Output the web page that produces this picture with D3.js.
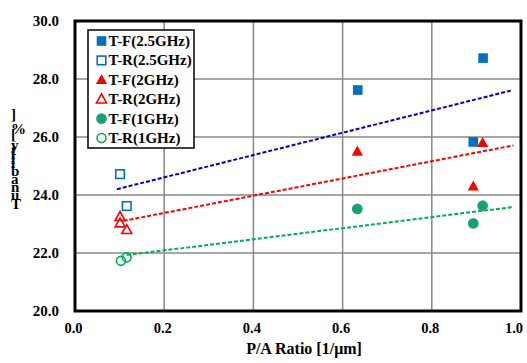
<!DOCTYPE html>
<html>
<head>
<meta charset="utf-8">
<script src="https://cdn.jsdelivr.net/npm/d3@7"></script>
<style>
  body { margin: 0; background: #fff; }
  text { font-family: "Liberation Serif", "Times New Roman", serif; font-weight: bold; fill: #000; }
</style>
</head>
<body>
<script>
const width = 527;
const height = 363;
const margin = { top: 21, right: 6, bottom: 52, left: 75 };

const xTicks = [0, 0.2, 0.4, 0.6, 0.8, 1.0];
const yTicks = [20, 22, 24, 26, 28, 30];

// series: name, marker, colours, points [P/A ratio, tunability]
const tf25 = [[0.634, 27.62], [0.893, 25.83], [0.915, 28.72]];
const tr25 = [[0.101, 24.72], [0.116, 23.62]];
const tf2 = [[0.633, 25.50], [0.893, 24.30], [0.914, 25.80]];
const tr2 = [[0.101, 23.25], [0.101, 23.03], [0.116, 22.80]];
const tf1 = [[0.633, 23.52], [0.893, 23.02], [0.914, 23.63]];
const tr1 = [[0.103, 21.73], [0.116, 21.85]];

// dashed trend lines (start / end points)
const trend25 = [[0.094, 24.20], [0.980, 27.61]];
const trend2 = [[0.109, 23.11], [0.983, 25.71]];
const trend1 = [[0.116, 21.93], [0.979, 23.58]];

const series = [
    { name: "T-F(2.5GHz)", shape: "square", fill: "#0070C0", stroke: "none", data: tf25 },
    { name: "T-R(2.5GHz)", shape: "square", fill: "none", stroke: "#0070C0", data: tr25 },
    { name: "T-F(2GHz)", shape: "triangle", fill: "#FF0000", stroke: "none", data: tf2 },
    { name: "T-R(2GHz)", shape: "triangle", fill: "none", stroke: "#FF0000", data: tr2 },
    { name: "T-F(1GHz)", shape: "circle", fill: "#00B050", stroke: "#3A8FB0", data: tf1 },
    { name: "T-R(1GHz)", shape: "circle", fill: "none", stroke: "#00B050", data: tr1 },
];

const trends = [
    { color: "#0000CC", data: trend25 },
    { color: "#FF0000", data: trend2 },
    { color: "#00B050", data: trend1 },
];

const svg = d3.select("body")
    .append("svg")
    .attr("width", width)
    .attr("height", height);

const x = d3.scaleLinear().domain([0, 1]).range([margin.left, width - margin.right]);
const y = d3.scaleLinear().domain([20, 30]).range([height - margin.bottom, margin.top]);

// grid
svg.selectAll(".vgrid")
    .data(xTicks.slice(1, -1))
    .enter()
    .append("line")
    .attr("x1", (d) => x(d)).attr("x2", (d) => x(d))
    .attr("y1", y(20)).attr("y2", y(30))
    .attr("stroke", "#888").attr("stroke-width", 1.5);

svg.selectAll(".hgrid")
    .data(yTicks.slice(1, -1))
    .enter()
    .append("line")
    .attr("x1", x(0)).attr("x2", x(1))
    .attr("y1", (d) => y(d)).attr("y2", (d) => y(d))
    .attr("stroke", "#888").attr("stroke-width", 1.5);

// tick labels (last one pulled inside the window)
svg.selectAll(".xlabel")
    .data(xTicks)
    .enter()
    .append("text")
    .attr("x", (d, i) => i === xTicks.length - 1 ? width - 4 : x(d) - 1.5)
    .attr("y", y(20) + 22)
    .attr("text-anchor", (d, i) => i === xTicks.length - 1 ? "end" : "middle")
    .style("font-size", "14.5px")
    .text((d) => d.toFixed(1));

svg.selectAll(".ylabel")
    .data(yTicks)
    .enter()
    .append("text")
    .attr("x", x(0) - 16)
    .attr("y", (d) => y(d) + 5)
    .attr("text-anchor", "end")
    .style("font-size", "15px")
    .text((d) => d.toFixed(1));

svg.append("text")
    .attr("x", 304)
    .attr("y", 354)
    .attr("text-anchor", "middle")
    .style("font-size", "16px")
    .text("P/A Ratio [1/\u03bcm]");

// y title: glyphs kept upright along a vertical baseline
svg.append("text")
    .attr("transform", "translate(11, 209) rotate(-90)")
    .attr("rotate", "90")
    .style("font-size", "15px")
    .text("Tunability [%]");

// trend lines
const line = d3.line().x((d) => x(d[0])).y((d) => y(d[1]));

svg.selectAll(".trend")
    .data(trends)
    .enter()
    .append("path")
    .attr("d", (d) => line(d.data))
    .attr("fill", "none")
    .attr("stroke", (d) => d.color)
    .attr("stroke-width", 2)
    .attr("stroke-dasharray", "4,2");

// markers
function drawMarker(g, s, cx, cy) {
    if (s.shape === "square") {
        const r = s.fill === "none" ? 4.3 : 4.8;
        g.append("rect")
            .attr("x", cx - r).attr("y", cy - r)
            .attr("width", r * 2).attr("height", r * 2)
            .attr("fill", s.fill).attr("stroke", s.stroke).attr("stroke-width", 1.6);
    } else if (s.shape === "triangle") {
        const r = s.fill === "none" ? 5 : 5.6;
        g.append("path")
            .attr("d", `M${cx},${cy - r * 1.05}L${cx + r},${cy + r * 0.75}L${cx - r},${cy + r * 0.75}Z`)
            .attr("fill", s.fill).attr("stroke", s.stroke).attr("stroke-width", 1.6);
    } else {
        g.append("circle")
            .attr("cx", cx).attr("cy", cy).attr("r", s.fill === "none" ? 4.5 : 4.6)
            .attr("fill", s.fill).attr("stroke", s.stroke).attr("stroke-width", 1.6);
    }
}

series.forEach((s) => {
    const g = svg.append("g");
    s.data.forEach((d) => drawMarker(g, s, x(d[0]), y(d[1])));
});

// plot frame
svg.append("rect")
    .attr("x", x(0)).attr("y", y(30))
    .attr("width", x(1) - x(0)).attr("height", y(20) - y(30))
    .attr("fill", "none").attr("stroke", "#000").attr("stroke-width", 3);

// legend
const legend = svg.append("g").attr("transform", "translate(88, 30)");
legend.append("rect")
    .attr("width", 106).attr("height", 118)
    .attr("fill", "#fff").attr("stroke", "#000").attr("stroke-width", 1.5);

series.forEach((s, i) => {
    const ly = 11 + i * 19.4;
    drawMarker(legend, s, 13.5, ly);
    legend.append("text")
        .attr("x", 20.5)
        .attr("y", ly + 5)
        .style("font-size", "15px")
        .text(s.name);
});
</script>
</body>
</html>
